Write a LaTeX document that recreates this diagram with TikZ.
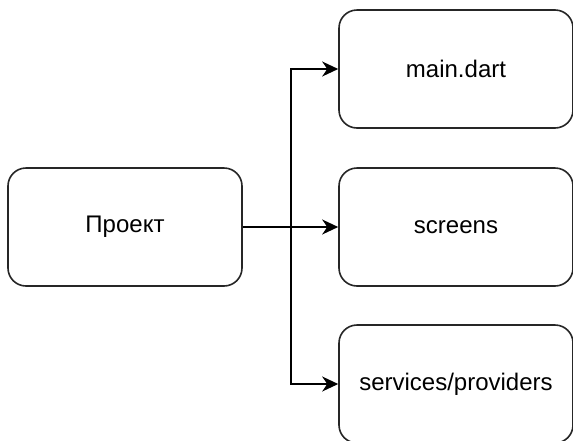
\documentclass[tikz,border=0pt]{standalone}
\usepackage{fontspec}
\setmainfont{Liberation Sans}
\usetikzlibrary{arrows.meta}
\begin{document}
\begin{tikzpicture}[x=1pt,y=-1pt,
  box/.style={draw=black!85,line width=1.6pt,rounded corners=18pt,fill=white,
    minimum width=234pt,minimum height=118pt,inner sep=0pt,font=\fontsize{24}{28}\selectfont},
  link/.style={draw=black,line width=1.6pt,-{Stealth[length=16pt,width=15pt,inset=5pt]}}]
  \useasboundingbox (0,0) rectangle (573,440);
  \node[box] (proj) at (125,227) {Проект};
  \node[box] (main) at (456,69) {main.dart};
  \node[box] (scr) at (456,227) {screens};
  \node[box] (serv) at (456,384) {services/providers};
  \coordinate (j) at (291,227);
  \draw[link] (proj.east) -- (scr.west);
  \draw[link] (proj.east) -- (j) |- (main.west);
  \draw[link] (proj.east) -- (j) |- (serv.west);
\end{tikzpicture}
\end{document}
